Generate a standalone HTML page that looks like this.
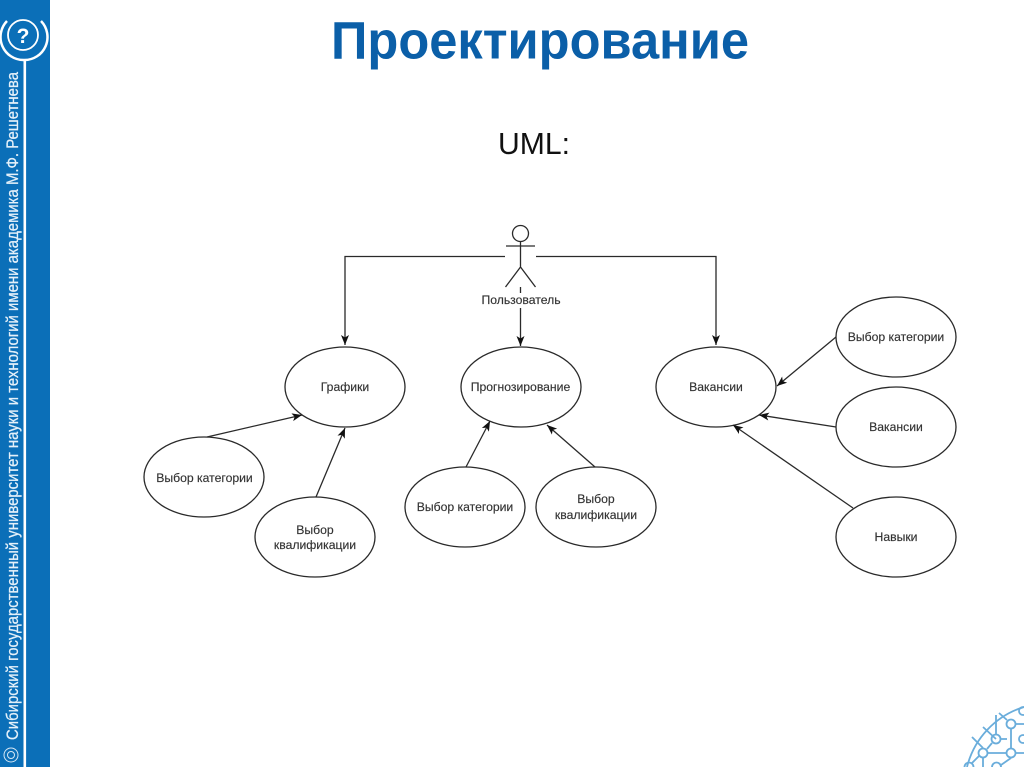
<!DOCTYPE html>
<html><head><meta charset="utf-8"><style>
html,body{margin:0;padding:0;background:#fff;width:1024px;height:767px;overflow:hidden}
svg{display:block;overflow:hidden}
</style></head><body>
<svg width="1024" height="767" viewBox="0 0 1024 767" xmlns="http://www.w3.org/2000/svg">
<defs><marker id="a" markerWidth="11" markerHeight="9" refX="10" refY="4" orient="auto" markerUnits="userSpaceOnUse"><path d="M0 0L10 4L0 8L2.500 4Z" fill="#111"/></marker></defs>
<rect x="0" y="0" width="50" height="767" fill="#0b6fb8"/>
<rect x="23.500" y="59" width="2.600" height="708" fill="#fff"/>
<circle cx="23" cy="35" r="15" fill="none" stroke="#fff" stroke-width="1.800"/>
<path d="M7 21A23 23 0 0 0 24 60A23 23 0 0 0 41 21" fill="none" stroke="#fff" stroke-width="2.500"/>
<text x="23" y="43" font-family="Liberation Sans" font-size="21" font-weight="bold" fill="#fff" text-anchor="middle">?</text>
<text transform="translate(18,740) rotate(-90)" font-family="Liberation Sans" font-size="17" fill="#e4f0f9" stroke="#e4f0f9" stroke-width="0.250" textLength="668" lengthAdjust="spacingAndGlyphs">Сибирский государственный университет науки и технологий имени академика М.Ф. Решетнева</text>
<g fill="none" stroke="#d5e7f4" stroke-width="1"><circle cx="11" cy="755" r="7"/><circle cx="11" cy="755" r="3.500"/></g>

<text x="331" y="58.500" font-family="Liberation Sans" font-size="53" font-weight="bold" fill="#0b5fa8" textLength="418" lengthAdjust="spacingAndGlyphs">Проектирование</text>
<text x="498" y="154" font-family="Liberation Sans" font-size="31" fill="#111" textLength="72" lengthAdjust="spacingAndGlyphs">UML:</text>

<g fill="none" stroke="#2a2a2a" stroke-width="1.300">
<circle cx="520.500" cy="233.500" r="8"/>
<path d="M506 246H535M520.500 241.500V267M520.500 267L505.500 287M520.500 267L535.500 287M520.500 287V293"/>
<path d="M505 256.500H345V345" marker-end="url(#a)"/>
<path d="M536 256.500H716V345" marker-end="url(#a)"/>
<path d="M520.500 308V346" marker-end="url(#a)"/>
<ellipse cx="345" cy="387" rx="60" ry="40"/>
<ellipse cx="521" cy="387" rx="60" ry="40"/>
<ellipse cx="716" cy="387" rx="60" ry="40"/>
<ellipse cx="204" cy="477" rx="60" ry="40"/>
<ellipse cx="315" cy="537" rx="60" ry="40"/>
<ellipse cx="465" cy="507" rx="60" ry="40"/>
<ellipse cx="596" cy="507" rx="60" ry="40"/>
<ellipse cx="896" cy="337" rx="60" ry="40"/>
<ellipse cx="896" cy="427" rx="60" ry="40"/>
<ellipse cx="896" cy="537" rx="60" ry="40"/>
<path d="M207 437L302 415" marker-end="url(#a)"/>
<path d="M316 497L345 428" marker-end="url(#a)"/>
<path d="M466 467L490 421" marker-end="url(#a)"/>
<path d="M595 467L547 425" marker-end="url(#a)"/>
<path d="M836 337L777 386" marker-end="url(#a)"/>
<path d="M836 427L759 415" marker-end="url(#a)"/>
<path d="M853 508L733 425" marker-end="url(#a)"/>
</g>
<g font-family="Liberation Sans" font-size="12.200" fill="#333" stroke="#333" stroke-width="0.150" text-anchor="middle">
<text x="521" y="304">Пользователь</text>
<text x="345" y="391">Графики</text>
<text x="520.500" y="391">Прогнозирование</text>
<text x="716" y="391">Вакансии</text>
<text x="204.500" y="482">Выбор категории</text>
<text x="315" y="534">Выбор</text><text x="315" y="549">квалификации</text>
<text x="465" y="511">Выбор категории</text>
<text x="596" y="503">Выбор</text><text x="596" y="519">квалификации</text>
<text x="896" y="341">Выбор категории</text>
<text x="896" y="431">Вакансии</text>
<text x="896" y="541">Навыки</text>
</g>
<g fill="none" stroke="#6aaddb" stroke-width="1.800">
<path d="M967 767A84 84 0 0 1 1024 707"/>
<circle cx="996" cy="739" r="4.500"/><circle cx="1011" cy="724" r="4.500"/><circle cx="983" cy="753" r="4.500"/><circle cx="1011" cy="753" r="4.500"/><circle cx="1023" cy="711" r="4"/><circle cx="1023" cy="739" r="4"/>
<path d="M964.500 767A4.500 4.500 0 0 1 973.500 767M992 767A4.500 4.500 0 0 1 1001 767"/>
<path d="M996 734V715M1000 739H1007M1011 729V748M1007 720L999 713M996 739L983 727M992 743L987 749M983 748L972 737M988 753H1006M1016 724H1024M983 758V767M1011 758L1001 765M1015 753H1024M972 763L979 756"/>
</g>
</svg>
</body></html>
